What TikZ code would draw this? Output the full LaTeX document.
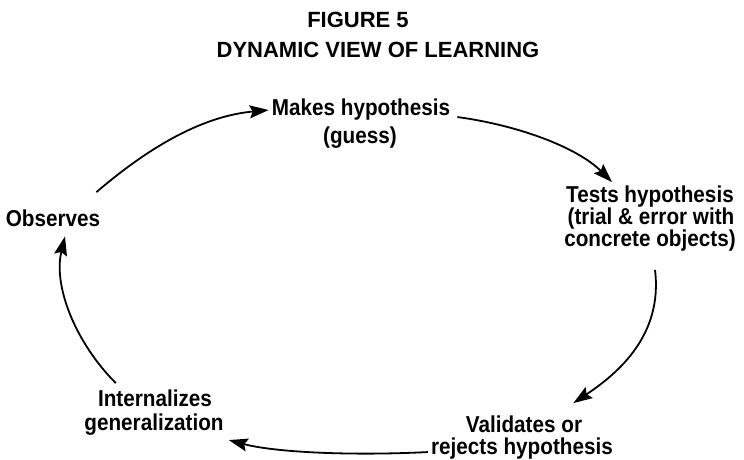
\documentclass[tikz,border=0pt]{standalone}
\usepackage{fontspec}
\setmainfont{Liberation Sans}
\newfontfamily\stagefont[FakeStretch=0.9]{Liberation Sans}
\usetikzlibrary{arrows.meta,calc}
\begin{document}
\begin{tikzpicture}[x=1pt,y=-1pt,
  headline/.style={anchor=base, inner sep=1pt, font=\bfseries\fontsize{22}{24}\selectfont},
  lbl/.style={anchor=base, inner sep=0pt, font=\stagefont\bfseries\fontsize{23}{24}\selectfont},
  flow/.style={line width=1.8pt, -{Stealth[length=19pt,width=13pt,inset=3pt]}}]
\useasboundingbox[fill=white] (0,0) rectangle (744,460);

% title
\node[headline] (fig)   at (358,28) {FIGURE 5};
\node[headline] (title) at (378,58) {DYNAMIC VIEW OF LEARNING};

% stages of the cycle
\node[lbl] (make)   at (361,115) {Makes hypothesis};
\node[lbl] (guess)  at (360,143) {(guess)};
\node[lbl] (tests)  at (650,202) {Tests hypothesis};
\node[lbl] (trial)  at (651,224) {(trial \& error with};
\node[lbl] (concr)  at (650,246) {concrete objects)};
\node[lbl] (valid)  at (524,432) {Validates or};
\node[lbl] (reject) at (522,454) {rejects hypothesis};
\node[lbl] (intern) at (155,406) {Internalizes};
\node[lbl] (gener)  at (154,430) {generalization};
\node[lbl] (obs)    at (53,226)  {Observes};

% cycle arrows
\draw[flow] ($(obs.north east)+(-4,-17)$)
  .. controls +(55,-47) and +(-65,6) .. ($(make.west)+(-3,1)$);
\draw[flow] ($(make.east)+(7,8)$)
  .. controls +(60,8) and +(-35,-35) .. ($(tests.north west)+(46,-3)$);
\draw[flow] ($(concr.south)+(5,19)$)
  .. controls +(8,65) and +(45,-30) .. ($(valid.north east)+(-9,-12)$);
\draw[flow] ($(reject.west)+(-3,4)$)
  .. controls +(-80,4) and +(45,12) .. ($(gener.south east)+(5,5)$);
\draw[flow] ($(intern.north west)+(18,-6)$)
  .. controls +(-40,-40) and +(-12,50) .. ($(obs.south)+(12,10)$);
\end{tikzpicture}
\end{document}
